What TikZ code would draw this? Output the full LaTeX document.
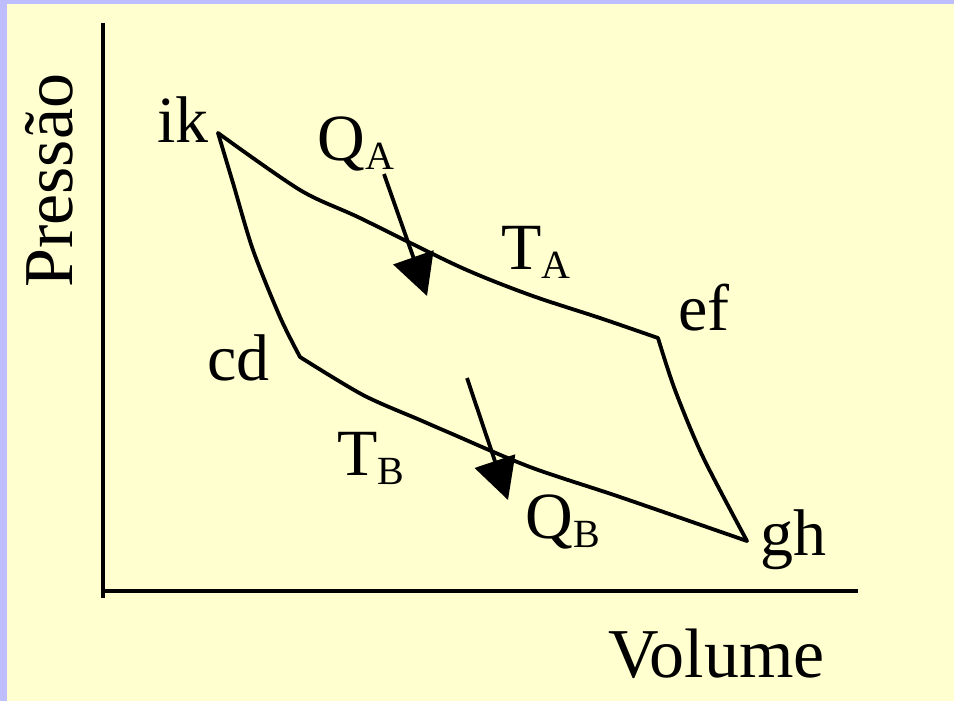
\documentclass[tikz,border=0pt]{standalone}
\usepackage{fontspec}
\setmainfont{LiberationSerif}[Extension=.ttf,UprightFont=*-Regular,BoldFont=*-Bold,ItalicFont=*-Italic,BoldItalicFont=*-BoldItalic]
\usetikzlibrary{arrows.meta}
\definecolor{bgyellow}{RGB}{255,255,208}
\definecolor{stripe}{RGB}{190,190,255}
\newcommand{\sbs}[1]{\raisebox{-4.5pt}{\fontsize{20}{24}\selectfont #1}}
\begin{document}
\begin{tikzpicture}[x=0.5pt,y=-0.5pt,
  lbl/.style={anchor=base west,inner sep=0pt,font=\rmfamily\fontsize{33}{40}\selectfont},
  axlbl/.style={anchor=base west,inner sep=0pt,font=\rmfamily\fontsize{35}{42}\selectfont},
  cyc/.style={line width=1.9pt,line join=round,line cap=round},
  axisline/.style={line width=2pt},
  heat/.style={line width=1.9pt,-{Triangle[length=20.5pt,width=21pt]}}]
% background
\fill[stripe] (0,0) rectangle (954,701);
\fill[bgyellow] (7,4) rectangle (954,701);
\useasboundingbox (0,0) rectangle (954,701);
% axes
\coordinate (ytop) at (103,23);
\coordinate (ybot) at (103,598);
\coordinate (xl) at (101,591);
\coordinate (xr) at (858,591);
\draw[axisline] (ytop) -- (ybot);
\draw[axisline] (xl) -- (xr);
% corners
\coordinate (ik) at (218,133);
\coordinate (ef) at (658,338);
\coordinate (gh) at (747,541);
\coordinate (cd) at (300,357);
% cycle
\draw[cyc] plot[smooth,tension=0.5] coordinates {(218,133) (300,190) (360,218) (460,267) (530,295) (600,318) (658,338)};
\draw[cyc] plot[smooth,tension=0.5] coordinates {(658,338) (675,390) (703,457) (747,541)};
\draw[cyc] plot[smooth,tension=0.5] coordinates {(747,541) (620,497) (530,467) (450,433) (420,420) (363,395) (300,357)};
\draw[cyc] plot[smooth,tension=0.5] coordinates {(300,357) (280,317) (253,250) (233,183) (218,133)};
% heat arrows
\coordinate (qas) at (384,174);
\coordinate (qat) at (427,296);
\coordinate (qbs) at (467,378);
\coordinate (qbt) at (508,500);
\draw[heat] (qas) -- (qat);
\draw[heat] (qbs) -- (qbt);
% labels
\node[lbl] (Lik) at (157,143) {ik};
\node[lbl] (LQA) at (317,161) {Q\sbs{A}};
\node[lbl] (LTA) at (501,270) {T\sbs{A}};
\node[lbl] (Lef) at (678,330) {ef};
\node[lbl] (Lcd) at (207,380) {cd};
\node[lbl] (LTB) at (337,475) {T\sbs{B}};
\node[lbl] (LQB) at (525,538) {Q\sbs{B}};
\node[lbl] (Lgh) at (760,555) {gh};
\node[axlbl] (Lvol) at (608,677) {Volume};
\node[axlbl,rotate=90] (Lpres) at (72,288) {Pressão};
\end{tikzpicture}
\end{document}
